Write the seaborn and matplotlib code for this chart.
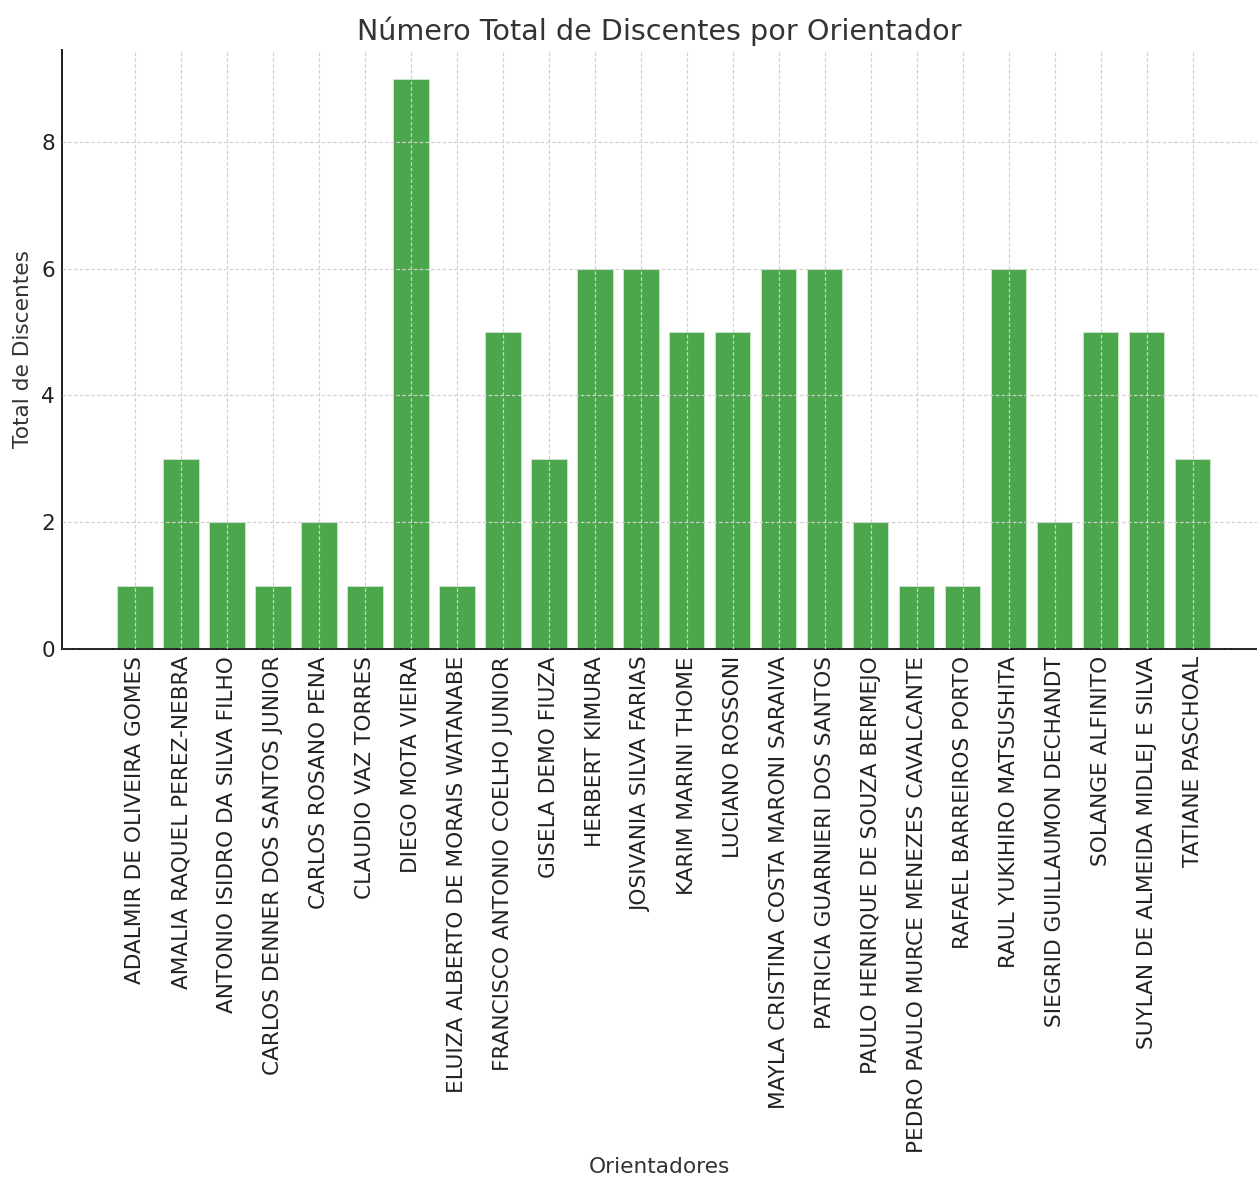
import matplotlib
matplotlib.use('Agg')
import matplotlib.pyplot as plt
import seaborn as sns
import pandas as pd

# Dados: orientadores e total de discentes
orientadores = [
    'ADALMIR DE OLIVEIRA GOMES',
    'AMALIA RAQUEL PEREZ-NEBRA',
    'ANTONIO ISIDRO DA SILVA FILHO',
    'CARLOS DENNER DOS SANTOS JUNIOR',
    'CARLOS ROSANO PENA',
    'CLAUDIO VAZ TORRES',
    'DIEGO MOTA VIEIRA',
    'ELUIZA ALBERTO DE MORAIS WATANABE',
    'FRANCISCO ANTONIO COELHO JUNIOR',
    'GISELA DEMO FIUZA',
    'HERBERT KIMURA',
    'JOSIVANIA SILVA FARIAS',
    'KARIM MARINI THOME',
    'LUCIANO ROSSONI',
    'MAYLA CRISTINA COSTA MARONI SARAIVA',
    'PATRICIA GUARNIERI DOS SANTOS',
    'PAULO HENRIQUE DE SOUZA BERMEJO',
    'PEDRO PAULO MURCE MENEZES CAVALCANTE',
    'RAFAEL BARREIROS PORTO',
    'RAUL YUKIHIRO MATSUSHITA',
    'SIEGRID GUILLAUMON DECHANDT',
    'SOLANGE ALFINITO',
    'SUYLAN DE ALMEIDA MIDLEJ E SILVA',
    'TATIANE PASCHOAL',
]
total_discentes = [1, 3, 2, 1, 2, 1, 9, 1, 5, 3, 6, 6, 5, 5, 6, 6, 2, 1, 1, 6, 2, 5, 5, 3]

df = pd.DataFrame({'Orientador': orientadores, 'Total': total_discentes})

sns.set_style('white')
plt.rcParams['font.family'] = ['DejaVu Sans']

fig = plt.figure(figsize=(1257 / 144, 1178 / 144), dpi=144)
ax = fig.add_axes([62 / 1257, 1 - 649 / 1178, 1 - 62 / 1257, (649 - 50) / 1178])

sns.barplot(data=df, x='Orientador', y='Total', color='green', alpha=0.7,
            saturation=1, width=0.8, ax=ax)

ax.set_xlim(-1.59, 24.39)
ax.set_ylim(0, 9.45)
ax.set_yticks([0, 2, 4, 6, 8])

ax.grid(True, linestyle=(0, (3, 1.8)), color='#d0d0d0', linewidth=0.6)
ax.set_axisbelow(False)

ax.set_title('Número Total de Discentes por Orientador', fontsize=14.3,
             color='#333333', pad=5)
ax.set_xlabel('Orientadores', fontsize=10.8, color='#333333', labelpad=2)
ax.set_ylabel('Total de Discentes', fontsize=10.8, color='#333333')

ax.tick_params(axis='x', rotation=90, labelsize=10.8, direction='in', length=3.5,
               width=1, colors='#222222')
ax.tick_params(axis='y', labelsize=10.8, direction='in', length=3.5, width=1,
               colors='#222222')

for s in ['top', 'right']:
    ax.spines[s].set_visible(False)
for s in ['left', 'bottom']:
    ax.spines[s].set_color('#222222')
    ax.spines[s].set_linewidth(1)

fig.savefig('out.png', dpi=144)
plt.close()
